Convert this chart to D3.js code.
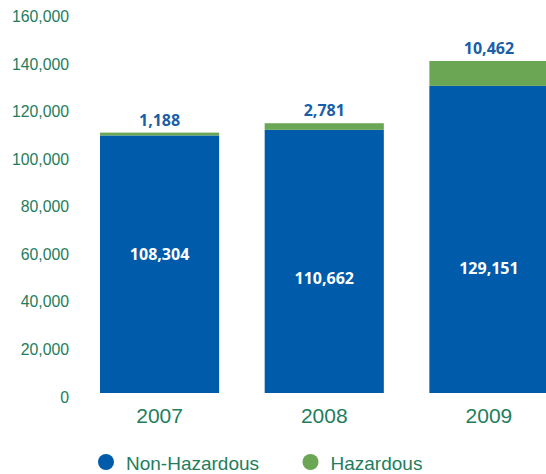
<!DOCTYPE html>
<html>
<head>
<meta charset="utf-8">
<script src="https://cdn.jsdelivr.net/npm/d3@7"></script>
<style>
  body { margin: 0; background: #fff; }
  svg { display: block; }
</style>
</head>
<body>
<svg id="chart" width="546" height="474"></svg>
<script>
(function() {

	// chart data
	const years = ["2007", "2008", "2009"];
	const nonHazardous = [108304, 110662, 129151];
	const hazardous = [1188, 2781, 10462];
	const yTicks = [0, 20000, 40000, 60000, 80000, 100000, 120000, 140000, 160000];
	const seriesNames = ["Non-Hazardous", "Hazardous"];
	// where the white numbers sit inside the blue bars (in data units)
	const innerLabelAt = [58500, 48500, 52500];

	const blue = "#005baa";
	const green = "#6aa653";
	const textGreen = "#237d5c";

	const svg = d3.select("#chart");

	// bars at 100, 264.5, 429 with width 119
	const x = d3.scaleBand()
		.domain(years)
		.range([100, 548.5])
		.paddingInner(0.2766)
		.paddingOuter(0);

	const y = d3.scaleLinear()
		.domain([0, 160000])
		.range([393, 12.5]);

	const fmt = d3.format(",");

	// y axis labels only, no line
	svg.append("g")
		.selectAll("text")
		.data(yTicks)
		.join("text")
		.attr("x", 69)
		.attr("y", d => y(d) + 9.5)
		.attr("text-anchor", "end")
		.attr("font-family", "Liberation Sans, Arial, sans-serif")
		.attr("font-size", 15.8)
		.attr("fill", textGreen)
		.text(d => fmt(d));

	const stack = years.map((yr, i) => ({
		year: yr, non: nonHazardous[i], haz: hazardous[i], inner: innerLabelAt[i]
	}));

	const bars = svg.append("g");

	bars.selectAll("rect.non")
		.data(stack)
		.join("rect")
		.attr("class", "non")
		.attr("x", d => x(d.year))
		.attr("width", x.bandwidth())
		.attr("y", d => y(d.non))
		.attr("height", d => y(0) - y(d.non))
		.attr("fill", blue);

	bars.selectAll("rect.haz")
		.data(stack)
		.join("rect")
		.attr("class", "haz")
		.attr("x", d => x(d.year))
		.attr("width", x.bandwidth())
		.attr("y", d => y(d.non + d.haz))
		.attr("height", d => y(d.non) - y(d.non + d.haz))
		.attr("fill", green);

	// hazardous value above each bar
	bars.selectAll("text.top")
		.data(stack)
		.join("text")
		.attr("class", "top")
		.attr("x", d => x(d.year) + x.bandwidth() / 2)
		.attr("y", d => y(d.non + d.haz) - 7)
		.attr("text-anchor", "middle")
		.attr("font-family", "Open Sans, sans-serif")
		.attr("font-weight", "bold")
		.attr("font-size", 16)
		.attr("fill", "#1a5ea8")
		.text(d => fmt(d.haz));

	// non-hazardous value inside the bar
	bars.selectAll("text.inner")
		.data(stack)
		.join("text")
		.attr("class", "inner")
		.attr("x", d => x(d.year) + x.bandwidth() / 2)
		.attr("y", d => y(d.inner) + 6)
		.attr("text-anchor", "middle")
		.attr("font-family", "Open Sans, sans-serif")
		.attr("font-weight", "bold")
		.attr("font-size", 16)
		.attr("fill", "#fff")
		.text(d => fmt(d.non));

	// year labels
	svg.append("g")
		.selectAll("text")
		.data(years)
		.join("text")
		.attr("x", d => x(d) + x.bandwidth() / 2)
		.attr("y", 423)
		.attr("text-anchor", "middle")
		.attr("font-family", "Liberation Sans, Arial, sans-serif")
		.attr("font-size", 21)
		.attr("fill", textGreen)
		.text(d => d);

	// legend
	const legend = svg.append("g")
		.selectAll("g")
		.data(seriesNames)
		.join("g")
		.attr("transform", (d, i) => "translate(" + (106 + i * 204.5) + ",462)");

	legend.append("circle")
		.attr("r", 8)
		.attr("fill", (d, i) => i == 0 ? blue : green);

	legend.append("text")
		.attr("x", 20)
		.attr("y", 7.5)
		.attr("font-family", "Liberation Sans, Arial, sans-serif")
		.attr("font-size", 19)
		.attr("fill", textGreen)
		.text(d => d);
})();
</script>
</body>
</html>
